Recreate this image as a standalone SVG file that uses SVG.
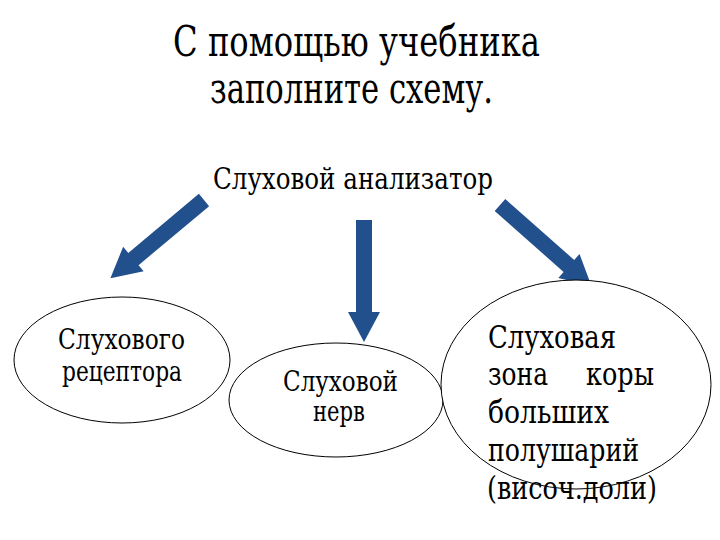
<svg xmlns="http://www.w3.org/2000/svg" width="720" height="540" viewBox="0 0 720 540">
<style>
text{font-family:"DejaVu Serif","Liberation Serif",serif;fill:#000}
.node ellipse{fill:#fff;stroke:#000;stroke-width:1}
.arrow{fill:#22508C}
</style>
<defs>
<path id="arr" d="M0,-8 L92,-8 L92,-16 L122,0 L92,16 L92,8 L0,8 Z"/>
</defs>
<rect width="720" height="540" fill="#fff"/>
<g id="title">
<text x="173" y="56" font-size="42" textLength="367" lengthAdjust="spacingAndGlyphs">С помощью учебника</text>
<text x="210" y="103" font-size="42" textLength="283" lengthAdjust="spacingAndGlyphs">заполните схему.</text>
</g>
<g id="root">
<text x="213" y="189" font-size="30" textLength="280" lengthAdjust="spacingAndGlyphs">Слуховой анализатор</text>
</g>
<g id="connectors" class="arrow">
<use href="#arr" transform="translate(204,200) rotate(140.1)"/>
<use href="#arr" transform="translate(364,220) rotate(90)"/>
<use href="#arr" transform="translate(500,205) rotate(41.5)"/>
</g>
<g id="receptor" class="node">
<ellipse cx="122" cy="360" rx="108" ry="63"/>
<text x="58" y="349" font-size="27" textLength="127" lengthAdjust="spacingAndGlyphs">Слухового</text>
<text x="62" y="381" font-size="27" textLength="120" lengthAdjust="spacingAndGlyphs">рецептора</text>
</g>
<g id="nerve" class="node">
<ellipse cx="336" cy="400" rx="107" ry="57"/>
<text x="283" y="391" font-size="27" textLength="115" lengthAdjust="spacingAndGlyphs">Слуховой</text>
<text x="313" y="421" font-size="27" textLength="52" lengthAdjust="spacingAndGlyphs">нерв</text>
</g>
<g id="cortex" class="node">
<ellipse cx="576" cy="384.5" rx="135" ry="104.5"/>
<text x="488" y="348" font-size="31" textLength="128" lengthAdjust="spacingAndGlyphs">Слуховая</text>
<text x="488" y="385" font-size="31" textLength="60" lengthAdjust="spacingAndGlyphs">зона</text>
<text x="586" y="385" font-size="31" textLength="68" lengthAdjust="spacingAndGlyphs">коры</text>
<text x="488" y="423" font-size="31" textLength="121" lengthAdjust="spacingAndGlyphs">больших</text>
<text x="488" y="461" font-size="31" textLength="151" lengthAdjust="spacingAndGlyphs">полушарий</text>
<text x="487" y="499" font-size="31" textLength="170" lengthAdjust="spacingAndGlyphs">(височ.доли)</text>
</g>
</svg>
